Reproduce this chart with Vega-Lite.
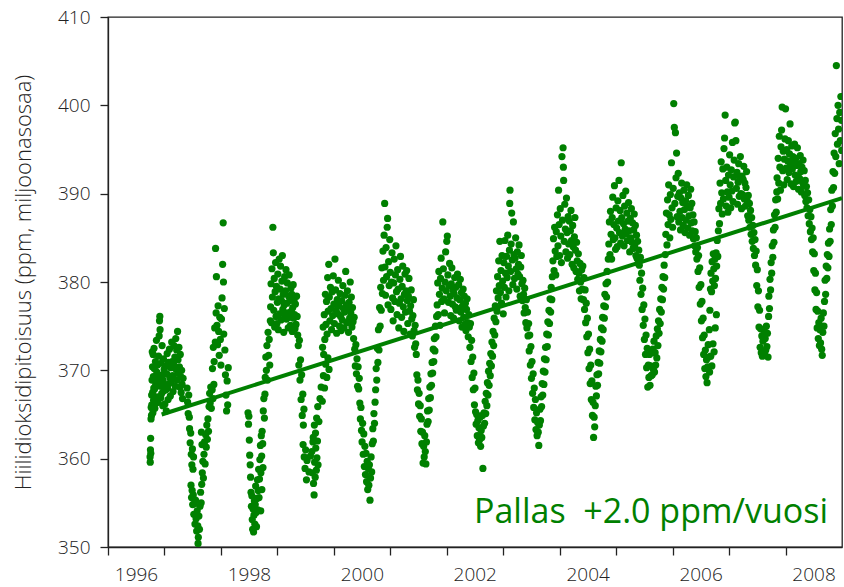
{
"$schema": "https://vega.github.io/schema/vega-lite/v6.json",
"width": 734, "height": 530,
"autosize": "none",
"padding": {"left": 108, "top": 17, "right": 2, "bottom": 40},
"background": "white",
"config": {
 "view": {"stroke": "#222", "strokeWidth": 1.3},
 "axis": {"domainColor": "#222", "tickColor": "#222", "domainWidth": 1.3, "tickWidth": 1.3, "tickSize": 8, "grid": false, "labelFont": "Open Sans", "labelFontWeight": 300, "labelFontSize": 19, "labelColor": "#222", "titleFont": "Open Sans", "titleFontWeight": 300, "titleFontSize": 22, "titleColor": "#222"}
},
"datasets": {
"co2": [
{"t":1996.745,"v":360.2},{"t":1996.748,"v":359.6},{"t":1996.752,"v":361.0},{"t":1996.755,"v":362.3},{"t":1996.758,"v":360.6},{"t":1996.762,"v":364.5},{"t":1996.765,"v":365.8},{"t":1996.770,"v":364.9},{"t":1996.773,"v":367.2},{"t":1996.776,"v":366.1},{"t":1996.780,"v":368.9},{"t":1996.784,"v":372.1},{"t":1996.788,"v":370.4},{"t":1996.791,"v":367.5},{"t":1996.795,"v":365.2},{"t":1996.799,"v":371.8},{"t":1996.803,"v":369.3},{"t":1996.807,"v":366.6},{"t":1996.811,"v":368.0},{"t":1996.815,"v":372.5},{"t":1996.820,"v":370.2},{"t":1996.825,"v":367.9},{"t":1996.830,"v":365.7},{"t":1996.835,"v":369.1},{"t":1996.840,"v":371.0},{"t":1996.846,"v":368.4},{"t":1996.852,"v":366.3},{"t":1996.858,"v":373.4},{"t":1996.864,"v":369.8},{"t":1996.870,"v":367.0},{"t":1996.876,"v":370.6},{"t":1996.882,"v":368.8},{"t":1996.888,"v":366.4},{"t":1996.894,"v":371.6},{"t":1996.900,"v":369.4},{"t":1996.906,"v":373.9},{"t":1996.912,"v":375.6},{"t":1996.918,"v":376.1},{"t":1996.922,"v":374.6},{"t":1996.928,"v":368.2},{"t":1996.934,"v":366.9},{"t":1996.940,"v":370.8},{"t":1996.946,"v":368.6},{"t":1996.952,"v":367.4},{"t":1996.958,"v":372.8},{"t":1996.964,"v":369.5},{"t":1996.970,"v":366.0},{"t":1996.976,"v":368.9},{"t":1996.982,"v":371.3},{"t":1996.988,"v":367.7},{"t":1996.994,"v":370.1},
{"t":1997.000,"v":368.3},{"t":1997.008,"v":366.2},{"t":1997.016,"v":370.5},{"t":1997.024,"v":367.8},{"t":1997.032,"v":365.4},{"t":1997.040,"v":369.6},{"t":1997.048,"v":371.9},{"t":1997.056,"v":368.0},{"t":1997.064,"v":366.7},{"t":1997.072,"v":370.9},{"t":1997.080,"v":368.5},{"t":1997.088,"v":372.4},{"t":1997.096,"v":369.2},{"t":1997.104,"v":367.1},{"t":1997.112,"v":370.3},{"t":1997.120,"v":368.7},{"t":1997.128,"v":373.2},{"t":1997.136,"v":371.0},{"t":1997.144,"v":369.4},{"t":1997.152,"v":367.6},{"t":1997.160,"v":370.7},{"t":1997.168,"v":372.8},{"t":1997.176,"v":369.0},{"t":1997.184,"v":371.5},{"t":1997.192,"v":368.2},{"t":1997.200,"v":373.6},{"t":1997.208,"v":370.1},{"t":1997.216,"v":372.3},{"t":1997.224,"v":368.9},{"t":1997.232,"v":374.4},{"t":1997.240,"v":371.2},{"t":1997.248,"v":369.7},{"t":1997.256,"v":372.6},{"t":1997.264,"v":370.4},{"t":1997.272,"v":368.1},{"t":1997.280,"v":371.8},{"t":1997.288,"v":369.3},{"t":1997.296,"v":367.5},{"t":1997.304,"v":370.0},{"t":1997.312,"v":368.4},{"t":1997.320,"v":366.8},{"t":1997.330,"v":369.1},
{"t":1997.400,"v":368.0},{"t":1997.410,"v":366.4},{"t":1997.420,"v":365.1},{"t":1997.430,"v":367.2},{"t":1997.440,"v":364.7},{"t":1997.445,"v":363.4},{"t":1997.455,"v":361.8},{"t":1997.465,"v":362.9},{"t":1997.475,"v":360.5},{"t":1997.485,"v":359.3},{"t":1997.495,"v":361.1},{"t":1997.505,"v":358.8},{"t":1997.515,"v":360.2},
{"t":1997.470,"v":357.0},{"t":1997.480,"v":355.6},{"t":1997.490,"v":356.4},{"t":1997.500,"v":354.8},{"t":1997.510,"v":355.9},{"t":1997.520,"v":353.7},{"t":1997.530,"v":354.9},{"t":1997.540,"v":352.6},{"t":1997.550,"v":355.3},{"t":1997.560,"v":353.2},{"t":1997.570,"v":351.8},{"t":1997.580,"v":354.1},{"t":1997.590,"v":352.4},{"t":1997.595,"v":350.4},{"t":1997.600,"v":351.1},{"t":1997.610,"v":353.5},{"t":1997.620,"v":352.0},{"t":1997.630,"v":354.6},{"t":1997.640,"v":356.2},{"t":1997.650,"v":355.0},{"t":1997.660,"v":357.1},
{"t":1997.655,"v":363.0},{"t":1997.665,"v":361.6},{"t":1997.670,"v":358.4},{"t":1997.680,"v":359.7},{"t":1997.690,"v":357.8},{"t":1997.700,"v":360.5},{"t":1997.710,"v":361.9},{"t":1997.720,"v":359.4},{"t":1997.730,"v":362.7},{"t":1997.740,"v":361.3},{"t":1997.750,"v":363.8},{"t":1997.760,"v":362.2},{"t":1997.770,"v":364.5},{"t":1997.780,"v":363.1},
{"t":1997.790,"v":365.9},{"t":1997.800,"v":367.4},{"t":1997.810,"v":366.3},{"t":1997.820,"v":368.1},{"t":1997.830,"v":365.7},{"t":1997.845,"v":367.8},{"t":1997.860,"v":366.8},{"t":1997.875,"v":368.4},
{"t":1997.850,"v":370.2},{"t":1997.865,"v":372.6},{"t":1997.880,"v":371.0},{"t":1997.890,"v":374.8},{"t":1997.900,"v":373.2},{"t":1997.905,"v":383.8},{"t":1997.915,"v":376.5},{"t":1997.920,"v":380.6},{"t":1997.930,"v":375.1},{"t":1997.940,"v":372.9},{"t":1997.950,"v":377.3},{"t":1997.960,"v":374.4},{"t":1997.970,"v":371.7},{"t":1997.980,"v":376.0},{"t":1997.990,"v":373.5},{"t":1998.000,"v":370.6},{"t":1998.010,"v":375.8},{"t":1998.020,"v":378.2},{"t":1998.030,"v":382.0},{"t":1998.040,"v":386.7},{"t":1998.045,"v":380.0},{"t":1998.050,"v":374.1},{"t":1998.060,"v":377.0},{"t":1998.070,"v":372.3},{"t":1998.080,"v":369.5},{"t":1998.090,"v":367.2},{"t":1998.100,"v":365.4},{"t":1998.110,"v":368.8},{"t":1998.120,"v":366.1},{"t":1998.130,"v":370.3},
{"t":1998.480,"v":365.2},{"t":1998.488,"v":363.9},{"t":1998.495,"v":364.8},{"t":1998.503,"v":362.1},{"t":1998.510,"v":360.4},{"t":1998.518,"v":359.3},{"t":1998.525,"v":357.9},{"t":1998.533,"v":356.2},{"t":1998.540,"v":354.6},{"t":1998.548,"v":355.8},{"t":1998.555,"v":353.1},{"t":1998.562,"v":352.0},{"t":1998.570,"v":354.3},{"t":1998.578,"v":351.7},{"t":1998.585,"v":353.6},{"t":1998.592,"v":355.2},{"t":1998.600,"v":352.6},{"t":1998.608,"v":354.8},{"t":1998.615,"v":356.9},{"t":1998.622,"v":353.9},{"t":1998.630,"v":352.3},{"t":1998.638,"v":355.5},{"t":1998.645,"v":357.6},{"t":1998.652,"v":354.2},{"t":1998.660,"v":356.4},{"t":1998.668,"v":358.8},{"t":1998.675,"v":355.6},{"t":1998.683,"v":357.7},{"t":1998.690,"v":359.9},{"t":1998.700,"v":361.5},{"t":1998.705,"v":354.1},{"t":1998.708,"v":358.4},{"t":1998.715,"v":362.6},{"t":1998.722,"v":360.3},{"t":1998.725,"v":356.5},{"t":1998.730,"v":363.1},{"t":1998.740,"v":361.7},{"t":1998.745,"v":359.0},{"t":1998.750,"v":365.4},{"t":1998.760,"v":366.8},{"t":1998.770,"v":364.6},{"t":1998.780,"v":367.3},
{"t":1998.785,"v":369.2},{"t":1998.795,"v":371.5},{"t":1998.805,"v":370.0},{"t":1998.815,"v":372.8},{"t":1998.825,"v":368.9},{"t":1998.835,"v":374.3},{"t":1998.845,"v":371.7},{"t":1998.855,"v":373.5},{"t":1998.865,"v":370.6},{"t":1998.875,"v":375.6},
{"t":1998.880,"v":377.2},{"t":1998.888,"v":379.8},{"t":1998.896,"v":375.4},{"t":1998.904,"v":381.5},{"t":1998.912,"v":378.3},{"t":1998.920,"v":386.2},{"t":1998.928,"v":383.3},{"t":1998.936,"v":376.8},{"t":1998.944,"v":380.4},{"t":1998.952,"v":374.9},{"t":1998.960,"v":378.9},{"t":1998.968,"v":382.2},{"t":1998.976,"v":376.1},{"t":1998.984,"v":379.5},{"t":1998.992,"v":375.3},{"t":1999.000,"v":377.7},{"t":1999.008,"v":380.9},{"t":1999.016,"v":374.6},{"t":1999.024,"v":378.1},{"t":1999.032,"v":382.6},{"t":1999.040,"v":376.4},{"t":1999.048,"v":379.2},{"t":1999.056,"v":381.8},{"t":1999.064,"v":375.7},{"t":1999.072,"v":377.9},{"t":1999.080,"v":380.1},{"t":1999.088,"v":383.0},{"t":1999.096,"v":376.9},{"t":1999.104,"v":378.6},{"t":1999.112,"v":374.3},{"t":1999.120,"v":377.4},{"t":1999.128,"v":380.6},{"t":1999.136,"v":376.2},{"t":1999.144,"v":379.0},{"t":1999.152,"v":381.4},{"t":1999.160,"v":375.8},{"t":1999.168,"v":377.6},{"t":1999.176,"v":379.9},{"t":1999.184,"v":376.5},{"t":1999.192,"v":374.8},{"t":1999.200,"v":378.4},{"t":1999.208,"v":380.8},{"t":1999.216,"v":376.0},{"t":1999.224,"v":377.9},{"t":1999.232,"v":375.1},{"t":1999.240,"v":379.3},{"t":1999.248,"v":376.7},{"t":1999.256,"v":378.6},{"t":1999.264,"v":374.4},{"t":1999.272,"v":377.1},{"t":1999.280,"v":379.7},{"t":1999.288,"v":375.9},{"t":1999.296,"v":378.0},{"t":1999.304,"v":376.3},{"t":1999.312,"v":374.7},{"t":1999.320,"v":377.5},{"t":1999.330,"v":375.2},{"t":1999.340,"v":378.4},{"t":1999.350,"v":376.1},{"t":1999.360,"v":374.0},
{"t":1999.370,"v":372.8},{"t":1999.380,"v":370.6},{"t":1999.390,"v":373.4},{"t":1999.400,"v":368.9},{"t":1999.410,"v":371.2},{"t":1999.420,"v":366.7},{"t":1999.430,"v":369.5},{"t":1999.440,"v":364.9},{"t":1999.450,"v":367.3},{"t":1999.460,"v":363.8},{"t":1999.470,"v":365.6},{"t":1999.455,"v":361.6},{"t":1999.475,"v":360.2},{"t":1999.490,"v":358.9},{"t":1999.500,"v":361.0},{"t":1999.515,"v":357.6},{"t":1999.525,"v":359.8},{"t":1999.560,"v":358.5},{"t":1999.585,"v":360.3},
{"t":1999.610,"v":360.8},{"t":1999.620,"v":358.4},{"t":1999.630,"v":361.9},{"t":1999.640,"v":357.2},{"t":1999.650,"v":355.9},{"t":1999.660,"v":359.6},{"t":1999.670,"v":357.9},{"t":1999.680,"v":361.2},{"t":1999.690,"v":358.7},{"t":1999.700,"v":360.1},{"t":1999.710,"v":362.0},{"t":1999.720,"v":359.3},
{"t":1999.635,"v":362.4},{"t":1999.655,"v":363.8},{"t":1999.675,"v":362.9},{"t":1999.695,"v":364.6},{"t":1999.715,"v":365.9},{"t":1999.735,"v":364.2},{"t":1999.755,"v":366.8},{"t":1999.775,"v":368.1},{"t":1999.795,"v":366.5},{"t":1999.815,"v":369.4},{"t":1999.835,"v":368.0},{"t":1999.855,"v":370.7},{"t":1999.875,"v":369.2},{"t":1999.895,"v":371.4},{"t":1999.915,"v":370.1},
{"t":1999.800,"v":372.6},{"t":1999.810,"v":374.9},{"t":1999.820,"v":371.8},{"t":1999.830,"v":376.3},{"t":1999.840,"v":373.5},{"t":1999.850,"v":378.6},{"t":1999.860,"v":375.2},{"t":1999.870,"v":377.8},{"t":1999.880,"v":374.1},{"t":1999.890,"v":380.5},{"t":1999.900,"v":376.7},{"t":1999.910,"v":382.0},{"t":1999.920,"v":378.3},{"t":1999.930,"v":375.6},{"t":1999.940,"v":379.4},{"t":1999.950,"v":377.0},{"t":1999.960,"v":374.6},{"t":1999.970,"v":378.9},{"t":1999.980,"v":376.2},{"t":1999.990,"v":380.7},{"t":2000.000,"v":377.5},{"t":2000.010,"v":375.3},{"t":2000.020,"v":382.6},{"t":2000.030,"v":379.1},{"t":2000.040,"v":376.8},{"t":2000.050,"v":374.2},{"t":2000.060,"v":378.0},{"t":2000.070,"v":376.4},{"t":2000.080,"v":380.2},{"t":2000.090,"v":377.3},{"t":2000.100,"v":375.0},{"t":2000.110,"v":378.7},{"t":2000.120,"v":376.1},{"t":2000.130,"v":374.5},{"t":2000.140,"v":377.9},{"t":2000.150,"v":375.7},{"t":2000.160,"v":379.6},{"t":2000.170,"v":377.0},{"t":2000.180,"v":374.8},{"t":2000.190,"v":376.6},{"t":2000.200,"v":378.5},{"t":2000.210,"v":381.2},{"t":2000.220,"v":377.4},{"t":2000.230,"v":375.4},{"t":2000.240,"v":379.0},{"t":2000.250,"v":376.9},{"t":2000.260,"v":374.3},{"t":2000.270,"v":377.7},{"t":2000.280,"v":375.9},{"t":2000.290,"v":380.0},{"t":2000.300,"v":376.5},{"t":2000.310,"v":378.3},{"t":2000.320,"v":374.9},{"t":2000.330,"v":377.1},{"t":2000.340,"v":375.5},{"t":2000.350,"v":373.6},{"t":2000.360,"v":376.0},{"t":2000.370,"v":372.4},{"t":2000.380,"v":370.5},{"t":2000.390,"v":372.9},{"t":2000.400,"v":369.6},{"t":2000.410,"v":371.3},{"t":2000.420,"v":368.2},{"t":2000.430,"v":370.4},{"t":2000.440,"v":367.9},{"t":2000.450,"v":369.1},
{"t":2000.460,"v":366.3},{"t":2000.470,"v":364.5},{"t":2000.480,"v":365.8},{"t":2000.490,"v":363.2},{"t":2000.500,"v":361.9},{"t":2000.510,"v":364.0},{"t":2000.520,"v":360.5},{"t":2000.530,"v":362.8},{"t":2000.540,"v":359.1},{"t":2000.550,"v":361.4},{"t":2000.560,"v":358.2},{"t":2000.570,"v":360.6},{"t":2000.580,"v":357.4},{"t":2000.590,"v":359.7},{"t":2000.600,"v":356.5},{"t":2000.610,"v":358.9},{"t":2000.620,"v":357.0},{"t":2000.630,"v":359.3},{"t":2000.640,"v":355.3},{"t":2000.650,"v":357.8},{"t":2000.660,"v":360.2},{"t":2000.670,"v":358.5},{"t":2000.680,"v":361.7},{"t":2000.690,"v":363.4},{"t":2000.700,"v":362.0},{"t":2000.710,"v":365.1},{"t":2000.720,"v":364.0},{"t":2000.730,"v":366.4},
{"t":2000.740,"v":367.8},{"t":2000.750,"v":370.2},{"t":2000.760,"v":368.9},{"t":2000.770,"v":372.5},{"t":2000.780,"v":370.9},{"t":2000.790,"v":374.6},{"t":2000.800,"v":372.3},{"t":2000.810,"v":377.1},{"t":2000.820,"v":375.0},{"t":2000.830,"v":379.4},{"t":2000.840,"v":376.8},{"t":2000.850,"v":381.6},{"t":2000.860,"v":378.7},{"t":2000.870,"v":383.5},{"t":2000.880,"v":380.2},{"t":2000.890,"v":385.3},{"t":2000.900,"v":388.9},
{"t":2000.905,"v":381.7},{"t":2000.915,"v":378.5},{"t":2000.925,"v":383.9},{"t":2000.935,"v":380.6},{"t":2000.945,"v":386.2},{"t":2000.952,"v":387.2},{"t":2000.960,"v":377.4},{"t":2000.970,"v":382.3},{"t":2000.980,"v":379.6},{"t":2000.990,"v":384.8},{"t":2001.000,"v":381.1},{"t":2001.010,"v":376.9},{"t":2001.020,"v":380.0},{"t":2001.030,"v":383.3},{"t":2001.040,"v":378.2},{"t":2001.050,"v":375.6},{"t":2001.060,"v":379.9},{"t":2001.070,"v":382.6},{"t":2001.080,"v":377.8},{"t":2001.090,"v":380.8},{"t":2001.100,"v":384.1},{"t":2001.110,"v":378.9},{"t":2001.120,"v":376.3},{"t":2001.130,"v":381.4},{"t":2001.140,"v":379.2},{"t":2001.150,"v":374.8},{"t":2001.160,"v":377.6},{"t":2001.170,"v":380.3},{"t":2001.180,"v":382.9},{"t":2001.190,"v":378.1},{"t":2001.200,"v":376.0},{"t":2001.210,"v":379.5},{"t":2001.220,"v":381.8},{"t":2001.230,"v":377.2},{"t":2001.240,"v":374.4},{"t":2001.250,"v":378.6},{"t":2001.260,"v":380.9},{"t":2001.270,"v":376.6},{"t":2001.280,"v":379.0},{"t":2001.290,"v":381.3},{"t":2001.300,"v":377.9},{"t":2001.310,"v":375.3},{"t":2001.320,"v":378.4},{"t":2001.330,"v":380.4},{"t":2001.340,"v":376.7},{"t":2001.350,"v":374.1},{"t":2001.360,"v":377.3},{"t":2001.370,"v":379.1},{"t":2001.380,"v":375.8},{"t":2001.390,"v":373.9},{"t":2001.400,"v":376.2},{"t":2001.410,"v":378.0},{"t":2001.420,"v":374.5},{"t":2001.430,"v":372.6},{"t":2001.440,"v":375.1},{"t":2001.450,"v":373.0},{"t":2001.460,"v":371.8},
{"t":2001.470,"v":369.5},{"t":2001.480,"v":367.8},{"t":2001.490,"v":368.9},{"t":2001.500,"v":366.2},{"t":2001.510,"v":367.4},{"t":2001.520,"v":364.8},{"t":2001.530,"v":366.0},{"t":2001.540,"v":363.1},{"t":2001.550,"v":364.5},{"t":2001.560,"v":361.7},{"t":2001.570,"v":363.0},{"t":2001.580,"v":359.5},{"t":2001.590,"v":361.4},{"t":2001.600,"v":360.2},{"t":2001.610,"v":362.6},{"t":2001.620,"v":360.8},{"t":2001.630,"v":359.4},{"t":2001.640,"v":361.9},
{"t":2001.650,"v":363.9},{"t":2001.660,"v":365.4},{"t":2001.670,"v":364.2},{"t":2001.680,"v":366.8},{"t":2001.690,"v":365.5},{"t":2001.700,"v":368.1},{"t":2001.710,"v":366.9},{"t":2001.720,"v":369.6},{"t":2001.730,"v":368.3},{"t":2001.740,"v":370.9},{"t":2001.750,"v":369.7},{"t":2001.760,"v":372.4},{"t":2001.770,"v":371.0},{"t":2001.780,"v":373.6},{"t":2001.790,"v":372.2},{"t":2001.800,"v":375.0},{"t":2001.810,"v":373.8},{"t":2001.820,"v":376.1},
{"t":2001.830,"v":377.4},{"t":2001.840,"v":379.9},{"t":2001.850,"v":376.3},{"t":2001.860,"v":381.2},{"t":2001.870,"v":378.6},{"t":2001.880,"v":375.1},{"t":2001.890,"v":380.4},{"t":2001.900,"v":382.7},{"t":2001.910,"v":377.8},{"t":2001.920,"v":379.3},{"t":2001.930,"v":386.8},{"t":2001.940,"v":381.5},{"t":2001.950,"v":378.1},{"t":2001.960,"v":376.5},{"t":2001.970,"v":380.0},{"t":2001.980,"v":383.4},{"t":2001.990,"v":379.0},{"t":2002.000,"v":384.6},{"t":2002.010,"v":385.2},{"t":2002.020,"v":380.8},{"t":2002.030,"v":377.7},{"t":2002.040,"v":379.6},{"t":2002.050,"v":382.1},{"t":2002.060,"v":378.4},{"t":2002.070,"v":376.2},{"t":2002.080,"v":379.8},{"t":2002.090,"v":381.6},{"t":2002.100,"v":377.5},{"t":2002.110,"v":379.1},{"t":2002.120,"v":375.9},{"t":2002.130,"v":378.7},{"t":2002.140,"v":380.5},{"t":2002.150,"v":377.2},{"t":2002.160,"v":379.4},{"t":2002.170,"v":376.8},{"t":2002.180,"v":378.2},{"t":2002.190,"v":380.9},{"t":2002.200,"v":377.0},{"t":2002.210,"v":379.7},{"t":2002.220,"v":375.6},{"t":2002.230,"v":378.0},{"t":2002.240,"v":380.3},{"t":2002.250,"v":376.6},{"t":2002.260,"v":378.8},{"t":2002.270,"v":374.9},{"t":2002.280,"v":377.3},{"t":2002.290,"v":379.2},{"t":2002.300,"v":376.0},{"t":2002.310,"v":378.4},{"t":2002.320,"v":375.2},{"t":2002.330,"v":377.6},{"t":2002.340,"v":374.5},{"t":2002.350,"v":376.9},{"t":2002.360,"v":378.1},{"t":2002.370,"v":375.4},{"t":2002.380,"v":373.8},{"t":2002.390,"v":376.3},
{"t":2002.400,"v":374.9},{"t":2002.410,"v":372.6},{"t":2002.420,"v":375.3},{"t":2002.430,"v":371.0},{"t":2002.440,"v":373.4},{"t":2002.450,"v":369.2},{"t":2002.460,"v":371.5},{"t":2002.470,"v":367.8},{"t":2002.480,"v":369.7},{"t":2002.490,"v":366.1},{"t":2002.500,"v":368.0},{"t":2002.510,"v":365.3},{"t":2002.520,"v":363.9},{"t":2002.530,"v":365.0},{"t":2002.540,"v":362.6},{"t":2002.550,"v":364.3},{"t":2002.560,"v":361.8},{"t":2002.570,"v":363.5},{"t":2002.580,"v":362.1},{"t":2002.590,"v":364.7},{"t":2002.600,"v":361.4},{"t":2002.610,"v":363.2},{"t":2002.620,"v":362.4},{"t":2002.630,"v":364.9},{"t":2002.640,"v":358.9},{"t":2002.650,"v":363.7},{"t":2002.660,"v":365.2},{"t":2002.670,"v":364.0},{"t":2002.680,"v":366.5},{"t":2002.690,"v":365.1},{"t":2002.700,"v":367.4},{"t":2002.710,"v":366.0},{"t":2002.720,"v":368.6},{"t":2002.730,"v":367.2},{"t":2002.740,"v":369.9},{"t":2002.750,"v":368.3},{"t":2002.760,"v":370.8},{"t":2002.770,"v":369.4},{"t":2002.780,"v":371.9},{"t":2002.790,"v":370.5},{"t":2002.800,"v":373.2},{"t":2002.810,"v":371.6},{"t":2002.820,"v":374.4},{"t":2002.830,"v":372.8},{"t":2002.840,"v":375.9},{"t":2002.850,"v":374.0},{"t":2002.860,"v":377.3},{"t":2002.870,"v":375.5},{"t":2002.880,"v":379.0},{"t":2002.890,"v":376.7},{"t":2002.900,"v":380.6},{"t":2002.910,"v":378.2},{"t":2002.920,"v":382.4},{"t":2002.930,"v":379.6},{"t":2002.940,"v":384.6},
{"t":2002.950,"v":378.8},{"t":2002.960,"v":381.3},{"t":2002.970,"v":377.6},{"t":2002.980,"v":383.0},{"t":2002.990,"v":380.1},{"t":2003.000,"v":376.4},{"t":2003.010,"v":382.2},{"t":2003.020,"v":379.4},{"t":2003.030,"v":384.7},{"t":2003.040,"v":381.0},{"t":2003.050,"v":378.3},{"t":2003.060,"v":382.9},{"t":2003.070,"v":380.5},{"t":2003.080,"v":385.3},{"t":2003.090,"v":381.8},{"t":2003.100,"v":379.0},{"t":2003.110,"v":383.6},{"t":2003.115,"v":388.9},{"t":2003.120,"v":390.4},{"t":2003.130,"v":381.2},{"t":2003.140,"v":384.3},{"t":2003.150,"v":387.8},{"t":2003.160,"v":382.5},{"t":2003.170,"v":379.7},{"t":2003.180,"v":386.8},{"t":2003.190,"v":383.1},{"t":2003.200,"v":380.4},{"t":2003.210,"v":382.7},{"t":2003.220,"v":385.0},{"t":2003.230,"v":381.5},{"t":2003.240,"v":379.2},{"t":2003.250,"v":383.4},{"t":2003.260,"v":380.9},{"t":2003.270,"v":382.0},{"t":2003.280,"v":384.2},{"t":2003.290,"v":380.6},{"t":2003.300,"v":378.4},{"t":2003.310,"v":381.7},{"t":2003.320,"v":383.0},{"t":2003.330,"v":379.8},{"t":2003.340,"v":377.9},{"t":2003.350,"v":380.2},{"t":2003.360,"v":378.6},{"t":2003.370,"v":376.5},{"t":2003.380,"v":379.3},{"t":2003.390,"v":377.1},{"t":2003.400,"v":375.4},{"t":2003.410,"v":378.0},{"t":2003.420,"v":374.8},
{"t":2003.430,"v":376.6},{"t":2003.440,"v":373.9},{"t":2003.450,"v":375.3},{"t":2003.460,"v":372.2},{"t":2003.470,"v":374.0},{"t":2003.480,"v":370.6},{"t":2003.490,"v":372.7},{"t":2003.500,"v":369.1},{"t":2003.510,"v":371.0},{"t":2003.520,"v":367.4},{"t":2003.530,"v":369.6},{"t":2003.540,"v":365.8},{"t":2003.550,"v":368.0},{"t":2003.560,"v":364.4},{"t":2003.570,"v":366.7},{"t":2003.580,"v":363.3},{"t":2003.590,"v":365.2},{"t":2003.600,"v":362.6},{"t":2003.610,"v":364.1},{"t":2003.620,"v":363.0},{"t":2003.630,"v":361.5},{"t":2003.640,"v":363.8},{"t":2003.650,"v":365.6},{"t":2003.660,"v":364.3},{"t":2003.670,"v":367.0},{"t":2003.680,"v":365.9},{"t":2003.690,"v":368.5},{"t":2003.700,"v":367.2},{"t":2003.710,"v":369.9},{"t":2003.720,"v":368.4},{"t":2003.730,"v":371.3},{"t":2003.740,"v":369.8},{"t":2003.750,"v":372.6},{"t":2003.760,"v":371.2},{"t":2003.770,"v":374.1},{"t":2003.780,"v":372.7},{"t":2003.790,"v":375.5},{"t":2003.800,"v":374.0},{"t":2003.810,"v":376.8},{"t":2003.820,"v":375.3},{"t":2003.830,"v":378.1},{"t":2003.840,"v":376.6},{"t":2003.850,"v":379.4},{"t":2003.860,"v":378.0},{"t":2003.870,"v":380.6},
{"t":2003.880,"v":382.4},{"t":2003.890,"v":384.9},{"t":2003.900,"v":381.3},{"t":2003.910,"v":386.2},{"t":2003.920,"v":383.5},{"t":2003.930,"v":380.8},{"t":2003.940,"v":385.7},{"t":2003.950,"v":382.9},{"t":2003.960,"v":387.6},{"t":2003.970,"v":384.1},{"t":2003.980,"v":390.4},{"t":2003.990,"v":386.5},{"t":2004.000,"v":383.0},{"t":2004.010,"v":388.3},{"t":2004.020,"v":385.2},{"t":2004.030,"v":382.2},{"t":2004.040,"v":394.2},{"t":2004.050,"v":387.0},{"t":2004.060,"v":395.2},{"t":2004.065,"v":393.0},{"t":2004.070,"v":391.5},{"t":2004.080,"v":384.6},{"t":2004.090,"v":388.8},{"t":2004.100,"v":386.0},{"t":2004.110,"v":383.4},{"t":2004.120,"v":389.5},{"t":2004.130,"v":385.6},{"t":2004.140,"v":382.7},{"t":2004.150,"v":387.4},{"t":2004.160,"v":384.3},{"t":2004.170,"v":386.9},{"t":2004.180,"v":383.1},{"t":2004.190,"v":385.8},{"t":2004.200,"v":388.1},{"t":2004.210,"v":384.7},{"t":2004.220,"v":382.0},{"t":2004.230,"v":386.4},{"t":2004.240,"v":384.0},{"t":2004.250,"v":381.6},{"t":2004.260,"v":385.1},{"t":2004.270,"v":387.3},{"t":2004.280,"v":383.6},{"t":2004.290,"v":381.2},{"t":2004.300,"v":384.5},{"t":2004.310,"v":382.4},{"t":2004.320,"v":380.3},{"t":2004.330,"v":383.2},{"t":2004.340,"v":381.0},{"t":2004.350,"v":379.0},{"t":2004.360,"v":382.1},{"t":2004.370,"v":380.0},{"t":2004.380,"v":378.1},{"t":2004.390,"v":381.4},{"t":2004.400,"v":379.2},
{"t":2004.410,"v":381.8},{"t":2004.420,"v":378.0},{"t":2004.430,"v":380.5},{"t":2004.440,"v":376.9},{"t":2004.450,"v":379.1},{"t":2004.460,"v":375.4},{"t":2004.470,"v":377.6},{"t":2004.480,"v":373.8},{"t":2004.490,"v":375.9},{"t":2004.500,"v":372.0},{"t":2004.510,"v":374.1},{"t":2004.520,"v":370.2},{"t":2004.530,"v":372.4},{"t":2004.540,"v":368.5},{"t":2004.550,"v":370.6},{"t":2004.560,"v":366.7},{"t":2004.570,"v":368.8},{"t":2004.580,"v":364.9},{"t":2004.590,"v":366.4},{"t":2004.600,"v":362.4},{"t":2004.610,"v":364.7},{"t":2004.620,"v":363.6},{"t":2004.630,"v":366.0},{"t":2004.640,"v":368.2},{"t":2004.650,"v":367.1},{"t":2004.660,"v":369.5},{"t":2004.670,"v":368.3},{"t":2004.680,"v":370.9},{"t":2004.690,"v":369.6},{"t":2004.700,"v":372.2},{"t":2004.710,"v":370.8},{"t":2004.720,"v":373.5},{"t":2004.730,"v":372.1},{"t":2004.740,"v":374.8},{"t":2004.750,"v":373.3},{"t":2004.760,"v":376.0},{"t":2004.770,"v":374.6},{"t":2004.780,"v":377.3},{"t":2004.790,"v":375.9},{"t":2004.800,"v":378.6},{"t":2004.810,"v":377.2},{"t":2004.820,"v":379.8},{"t":2004.830,"v":378.3},{"t":2004.840,"v":381.2},{"t":2004.850,"v":380.0},{"t":2004.860,"v":382.6},
{"t":2004.870,"v":384.3},{"t":2004.880,"v":386.8},{"t":2004.890,"v":383.1},{"t":2004.900,"v":388.0},{"t":2004.910,"v":385.4},{"t":2004.920,"v":382.6},{"t":2004.930,"v":387.3},{"t":2004.940,"v":389.6},{"t":2004.950,"v":384.8},{"t":2004.960,"v":386.5},{"t":2004.970,"v":390.9},{"t":2004.980,"v":385.0},{"t":2004.990,"v":383.7},{"t":2005.000,"v":388.4},{"t":2005.010,"v":386.1},{"t":2005.020,"v":384.0},{"t":2005.030,"v":389.2},{"t":2005.040,"v":386.9},{"t":2005.050,"v":391.5},{"t":2005.060,"v":385.6},{"t":2005.070,"v":388.1},{"t":2005.080,"v":384.4},{"t":2005.090,"v":393.5},{"t":2005.100,"v":387.3},{"t":2005.110,"v":385.2},{"t":2005.120,"v":389.8},{"t":2005.130,"v":386.6},{"t":2005.140,"v":384.1},{"t":2005.150,"v":388.6},{"t":2005.160,"v":386.0},{"t":2005.170,"v":390.3},{"t":2005.180,"v":385.5},{"t":2005.190,"v":387.8},{"t":2005.200,"v":384.7},{"t":2005.210,"v":386.9},{"t":2005.220,"v":389.0},{"t":2005.230,"v":385.8},{"t":2005.240,"v":383.4},{"t":2005.250,"v":387.2},{"t":2005.260,"v":385.0},{"t":2005.270,"v":388.3},{"t":2005.280,"v":384.5},{"t":2005.290,"v":386.7},{"t":2005.300,"v":383.8},{"t":2005.310,"v":385.9},{"t":2005.320,"v":387.7},{"t":2005.330,"v":384.2},{"t":2005.340,"v":386.4},{"t":2005.350,"v":383.0},{"t":2005.360,"v":385.3},{"t":2005.370,"v":382.7},{"t":2005.380,"v":384.6},{"t":2005.390,"v":382.1},{"t":2005.400,"v":383.6},{"t":2005.410,"v":381.9},{"t":2005.420,"v":380.2},{"t":2005.430,"v":382.8},{"t":2005.440,"v":378.6},{"t":2005.450,"v":381.0},
{"t":2005.460,"v":376.9},{"t":2005.470,"v":379.3},{"t":2005.480,"v":375.1},{"t":2005.490,"v":377.4},{"t":2005.500,"v":373.5},{"t":2005.510,"v":375.8},{"t":2005.520,"v":371.8},{"t":2005.530,"v":374.0},{"t":2005.540,"v":370.3},{"t":2005.550,"v":372.5},{"t":2005.560,"v":368.1},{"t":2005.570,"v":370.6},{"t":2005.580,"v":369.2},{"t":2005.590,"v":371.8},{"t":2005.600,"v":368.3},{"t":2005.610,"v":370.5},{"t":2005.620,"v":369.4},{"t":2005.630,"v":372.0},{"t":2005.640,"v":369.5},{"t":2005.650,"v":372.4},{"t":2005.660,"v":370.1},{"t":2005.670,"v":373.3},{"t":2005.680,"v":369.8},{"t":2005.690,"v":372.0},{"t":2005.700,"v":370.6},{"t":2005.710,"v":373.9},{"t":2005.720,"v":371.4},{"t":2005.730,"v":374.7},{"t":2005.740,"v":372.8},{"t":2005.750,"v":375.6},{"t":2005.760,"v":374.2},{"t":2005.770,"v":376.9},{"t":2005.780,"v":375.3},{"t":2005.790,"v":378.1},{"t":2005.800,"v":376.6},{"t":2005.810,"v":379.4},{"t":2005.820,"v":378.0},{"t":2005.830,"v":380.6},{"t":2005.840,"v":379.2},{"t":2005.850,"v":381.9},{"t":2005.860,"v":380.5},{"t":2005.870,"v":383.1},
{"t":2005.880,"v":385.4},{"t":2005.890,"v":387.8},{"t":2005.900,"v":384.2},{"t":2005.910,"v":389.3},{"t":2005.920,"v":386.5},{"t":2005.930,"v":391.0},{"t":2005.940,"v":387.6},{"t":2005.950,"v":385.0},{"t":2005.960,"v":389.9},{"t":2005.970,"v":387.1},{"t":2005.980,"v":393.5},{"t":2005.990,"v":388.4},{"t":2006.000,"v":386.2},{"t":2006.010,"v":390.6},{"t":2006.020,"v":400.2},{"t":2006.030,"v":397.5},{"t":2006.040,"v":388.9},{"t":2006.050,"v":396.9},{"t":2006.060,"v":391.8},{"t":2006.070,"v":394.6},{"t":2006.080,"v":387.4},{"t":2006.090,"v":389.7},{"t":2006.100,"v":392.3},{"t":2006.110,"v":386.8},{"t":2006.120,"v":390.1},{"t":2006.130,"v":388.0},{"t":2006.140,"v":385.9},{"t":2006.150,"v":389.5},{"t":2006.160,"v":391.2},{"t":2006.170,"v":387.3},{"t":2006.180,"v":389.0},{"t":2006.190,"v":386.4},{"t":2006.200,"v":390.4},{"t":2006.210,"v":388.2},{"t":2006.220,"v":385.6},{"t":2006.230,"v":389.2},{"t":2006.240,"v":387.0},{"t":2006.250,"v":391.0},{"t":2006.260,"v":388.6},{"t":2006.270,"v":386.1},{"t":2006.280,"v":389.8},{"t":2006.290,"v":387.5},{"t":2006.300,"v":385.3},{"t":2006.310,"v":388.4},{"t":2006.320,"v":390.5},{"t":2006.330,"v":386.7},{"t":2006.340,"v":388.9},{"t":2006.350,"v":385.8},{"t":2006.360,"v":387.6},{"t":2006.370,"v":384.9},{"t":2006.380,"v":386.8},{"t":2006.390,"v":384.1},{"t":2006.400,"v":385.7},{"t":2006.410,"v":383.4},{"t":2006.420,"v":385.0},{"t":2006.430,"v":382.6},
{"t":2006.440,"v":383.9},{"t":2006.450,"v":381.2},{"t":2006.460,"v":383.0},{"t":2006.470,"v":379.4},{"t":2006.480,"v":381.6},{"t":2006.490,"v":377.5},{"t":2006.500,"v":379.7},{"t":2006.510,"v":375.6},{"t":2006.520,"v":377.8},{"t":2006.530,"v":373.7},{"t":2006.540,"v":375.9},{"t":2006.550,"v":371.8},{"t":2006.560,"v":374.0},{"t":2006.570,"v":370.2},{"t":2006.580,"v":372.3},{"t":2006.590,"v":369.3},{"t":2006.600,"v":371.2},{"t":2006.610,"v":368.6},{"t":2006.620,"v":370.4},{"t":2006.630,"v":372.9},{"t":2006.640,"v":371.5},{"t":2006.650,"v":374.6},{"t":2006.655,"v":369.8},{"t":2006.660,"v":376.8},{"t":2006.670,"v":379.2},{"t":2006.675,"v":371.6},{"t":2006.680,"v":381.0},{"t":2006.690,"v":378.9},{"t":2006.695,"v":370.5},{"t":2006.700,"v":382.3},{"t":2006.710,"v":380.1},{"t":2006.715,"v":373.0},{"t":2006.720,"v":383.2},{"t":2006.730,"v":381.5},{"t":2006.735,"v":372.1},{"t":2006.740,"v":379.6},{"t":2006.750,"v":382.6},{"t":2006.755,"v":374.8},{"t":2006.760,"v":380.4},{"t":2006.770,"v":383.3},{"t":2006.775,"v":376.3},{"t":2006.780,"v":381.8},{"t":2006.790,"v":384.7},{"t":2006.800,"v":382.9},
{"t":2006.810,"v":385.8},{"t":2006.820,"v":388.3},{"t":2006.830,"v":386.6},{"t":2006.840,"v":391.2},{"t":2006.850,"v":388.9},{"t":2006.860,"v":393.6},{"t":2006.870,"v":390.1},{"t":2006.880,"v":387.7},{"t":2006.890,"v":392.8},{"t":2006.900,"v":389.4},{"t":2006.910,"v":395.1},{"t":2006.920,"v":396.3},{"t":2006.930,"v":398.9},{"t":2006.940,"v":391.5},{"t":2006.950,"v":388.6},{"t":2006.960,"v":393.0},{"t":2006.970,"v":390.2},{"t":2006.980,"v":387.9},{"t":2006.990,"v":392.1},{"t":2007.000,"v":389.6},{"t":2007.010,"v":394.4},{"t":2007.020,"v":391.0},{"t":2007.030,"v":388.4},{"t":2007.040,"v":392.7},{"t":2007.050,"v":390.3},{"t":2007.060,"v":395.8},{"t":2007.070,"v":389.1},{"t":2007.080,"v":391.9},{"t":2007.090,"v":393.8},{"t":2007.100,"v":398.0},{"t":2007.110,"v":398.1},{"t":2007.120,"v":396.0},{"t":2007.130,"v":390.6},{"t":2007.140,"v":392.4},{"t":2007.150,"v":388.8},{"t":2007.160,"v":391.3},{"t":2007.170,"v":393.4},{"t":2007.180,"v":389.7},{"t":2007.190,"v":391.8},{"t":2007.200,"v":394.2},{"t":2007.210,"v":390.0},{"t":2007.220,"v":388.3},{"t":2007.230,"v":392.0},{"t":2007.240,"v":389.9},{"t":2007.250,"v":391.6},{"t":2007.260,"v":393.1},{"t":2007.270,"v":389.4},{"t":2007.280,"v":391.2},{"t":2007.290,"v":388.6},{"t":2007.300,"v":390.7},{"t":2007.310,"v":392.5},{"t":2007.320,"v":389.2},{"t":2007.330,"v":387.5},{"t":2007.340,"v":389.8},{"t":2007.350,"v":387.0},{"t":2007.360,"v":388.9},{"t":2007.370,"v":386.2},{"t":2007.380,"v":388.1},{"t":2007.390,"v":385.4},{"t":2007.400,"v":387.3},{"t":2007.410,"v":384.6},{"t":2007.420,"v":386.4},{"t":2007.430,"v":383.8},{"t":2007.440,"v":385.6},{"t":2007.450,"v":383.0},{"t":2007.460,"v":384.8},
{"t":2007.470,"v":381.9},{"t":2007.480,"v":383.5},{"t":2007.490,"v":379.6},{"t":2007.500,"v":381.4},{"t":2007.510,"v":377.2},{"t":2007.520,"v":379.0},{"t":2007.530,"v":374.9},{"t":2007.540,"v":376.8},{"t":2007.550,"v":372.6},{"t":2007.560,"v":374.7},{"t":2007.570,"v":372.0},{"t":2007.580,"v":373.9},{"t":2007.590,"v":371.6},{"t":2007.600,"v":373.3},{"t":2007.610,"v":372.1},{"t":2007.620,"v":374.5},{"t":2007.630,"v":371.8},{"t":2007.640,"v":373.6},{"t":2007.650,"v":372.3},{"t":2007.660,"v":375.0},{"t":2007.670,"v":372.7},{"t":2007.680,"v":374.2},{"t":2007.690,"v":371.5},{"t":2007.700,"v":376.1},
{"t":2007.705,"v":378.4},{"t":2007.715,"v":377.0},{"t":2007.725,"v":380.3},{"t":2007.735,"v":379.1},{"t":2007.745,"v":382.2},{"t":2007.755,"v":381.0},{"t":2007.765,"v":384.1},{"t":2007.775,"v":382.8},{"t":2007.785,"v":385.9},{"t":2007.795,"v":384.5},{"t":2007.805,"v":387.6},{"t":2007.815,"v":386.2},{"t":2007.825,"v":389.3},{"t":2007.835,"v":387.9},{"t":2007.845,"v":390.2},
{"t":2007.850,"v":391.8},{"t":2007.860,"v":389.4},{"t":2007.870,"v":394.0},{"t":2007.880,"v":391.2},{"t":2007.890,"v":396.5},{"t":2007.900,"v":393.0},{"t":2007.910,"v":390.4},{"t":2007.920,"v":395.3},{"t":2007.930,"v":397.2},{"t":2007.940,"v":399.8},{"t":2007.950,"v":392.6},{"t":2007.960,"v":394.8},{"t":2007.970,"v":391.0},{"t":2007.980,"v":393.9},{"t":2007.990,"v":396.2},{"t":2008.000,"v":399.6},{"t":2008.010,"v":392.9},{"t":2008.020,"v":395.0},{"t":2008.030,"v":391.6},{"t":2008.040,"v":393.7},{"t":2008.050,"v":396.0},{"t":2008.060,"v":392.4},{"t":2008.070,"v":394.5},{"t":2008.080,"v":397.9},{"t":2008.090,"v":393.3},{"t":2008.100,"v":391.1},{"t":2008.110,"v":395.4},{"t":2008.120,"v":392.8},{"t":2008.130,"v":394.2},{"t":2008.140,"v":390.8},{"t":2008.150,"v":393.6},{"t":2008.160,"v":395.6},{"t":2008.170,"v":392.1},{"t":2008.180,"v":394.0},{"t":2008.190,"v":391.4},{"t":2008.200,"v":393.2},{"t":2008.210,"v":395.2},{"t":2008.220,"v":392.0},{"t":2008.230,"v":390.5},{"t":2008.240,"v":393.4},{"t":2008.250,"v":391.7},{"t":2008.260,"v":394.3},{"t":2008.270,"v":392.5},{"t":2008.280,"v":390.2},{"t":2008.290,"v":393.0},{"t":2008.300,"v":391.3},{"t":2008.310,"v":393.8},{"t":2008.320,"v":390.9},{"t":2008.330,"v":392.6},{"t":2008.340,"v":389.8},{"t":2008.350,"v":391.5},{"t":2008.360,"v":389.1},{"t":2008.370,"v":390.8},{"t":2008.380,"v":388.4},{"t":2008.390,"v":390.1},{"t":2008.400,"v":387.5},{"t":2008.410,"v":389.3},{"t":2008.420,"v":386.6},{"t":2008.430,"v":388.2},{"t":2008.440,"v":385.7},{"t":2008.450,"v":387.4},{"t":2008.460,"v":384.8},
{"t":2008.470,"v":386.1},{"t":2008.480,"v":383.4},{"t":2008.490,"v":385.0},{"t":2008.500,"v":381.3},{"t":2008.510,"v":383.2},{"t":2008.520,"v":379.1},{"t":2008.530,"v":381.0},{"t":2008.540,"v":376.9},{"t":2008.550,"v":378.8},{"t":2008.560,"v":374.8},{"t":2008.570,"v":376.7},{"t":2008.580,"v":373.6},{"t":2008.590,"v":375.4},{"t":2008.600,"v":372.8},{"t":2008.610,"v":374.6},{"t":2008.620,"v":373.1},{"t":2008.630,"v":375.9},{"t":2008.640,"v":372.4},{"t":2008.650,"v":371.7},{"t":2008.660,"v":374.3},{"t":2008.670,"v":376.5},{"t":2008.680,"v":375.0},{"t":2008.690,"v":377.8},{"t":2008.700,"v":380.2},{"t":2008.710,"v":378.6},{"t":2008.720,"v":381.8},{"t":2008.730,"v":380.4},{"t":2008.740,"v":383.1},{"t":2008.750,"v":381.6},{"t":2008.760,"v":384.4},{"t":2008.770,"v":382.9},{"t":2008.780,"v":386.0},{"t":2008.790,"v":384.6},{"t":2008.800,"v":388.2},{"t":2008.810,"v":386.5},{"t":2008.820,"v":390.4},{"t":2008.830,"v":388.6},{"t":2008.840,"v":392.5},{"t":2008.850,"v":390.7},{"t":2008.860,"v":394.6},{"t":2008.870,"v":392.3},{"t":2008.880,"v":396.8},{"t":2008.890,"v":394.2},{"t":2008.900,"v":404.5},{"t":2008.910,"v":398.5},{"t":2008.920,"v":395.6},{"t":2008.930,"v":400.0},{"t":2008.940,"v":397.3},{"t":2008.950,"v":393.4},{"t":2008.960,"v":399.2},{"t":2008.970,"v":396.0},{"t":2008.980,"v":401.0},{"t":2008.990,"v":398.3},{"t":2008.995,"v":394.9}
],
"trend": [{"t":1996.95,"v":365.0},{"t":2009.0,"v":389.5}],
"note": [{"t":2008.752,"v":352.68,"label":"Pallas\u00a0 +2.0 ppm/vuosi"}]
},
"layer": [
 {
  "data": {"name": "co2"},
  "mark": {"type": "circle", "size": 52, "color": "#008000", "opacity": 1, "clip": true},
  "encoding": {
   "x": {"field": "t", "type": "quantitative", "scale": {"domain": [1996, 2009], "nice": false, "zero": false},
    "axis": {"title": null, "values": [1996,1997,1998,1999,2000,2001,2002,2003,2004,2005,2006,2007,2008], "labelExpr": "datum.value % 2 == 0 ? '' + datum.value : ''", "labelOffset": 28, "labelFlush": false, "labelOverlap": false, "labelBound": false, "labelPadding": 10}},
   "y": {"field": "v", "type": "quantitative", "scale": {"domain": [350, 410], "nice": false, "zero": false},
    "axis": {"title": "Hiilidioksidipitoisuus (ppm, miljoonasosaa)", "values": [350,360,370,380,390,400,410], "labelPadding": 10, "titlePadding": 22, "labelOverlap": false, "labelBound": false, "labelFlush": false}}
  }
 },
 {
  "data": {"name": "trend"},
  "mark": {"type": "line", "color": "#008000", "strokeWidth": 4},
  "encoding": {"x": {"field": "t", "type": "quantitative"}, "y": {"field": "v", "type": "quantitative"}}
 },
 {
  "data": {"name": "note"},
  "mark": {"type": "text", "align": "right", "baseline": "alphabetic", "font": "Open Sans", "fontSize": 34, "color": "#008000"},
  "encoding": {"x": {"field": "t", "type": "quantitative"}, "y": {"field": "v", "type": "quantitative"}, "text": {"field": "label"}}
 }
]
}
